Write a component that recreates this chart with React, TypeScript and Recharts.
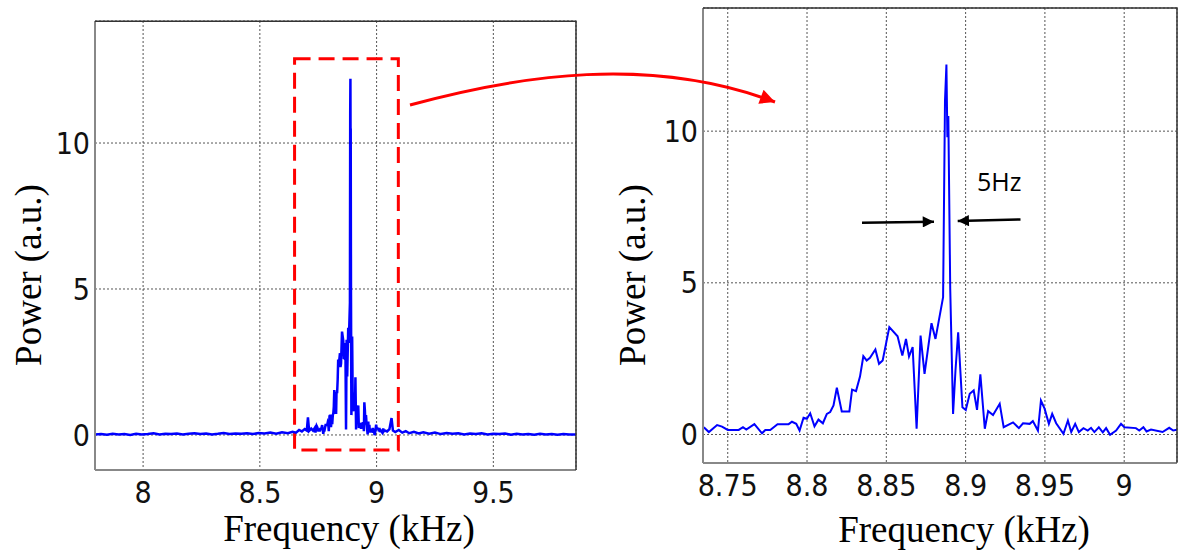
import React from 'react';
import { LineChart, Line, XAxis, YAxis, CartesianGrid, ReferenceArea } from 'recharts';

// zoomed spectrum (right panel), kHz / a.u.
const zoomFreq = [
  8.7349, 8.7381, 8.7433, 8.7464, 8.75, 8.7569, 8.7596, 8.7617, 8.7668, 8.7716,
  8.7737, 8.7768, 8.7814, 8.7884, 8.7905, 8.7932, 8.7953, 8.7978, 8.7999, 8.802,
  8.8047, 8.8072, 8.81, 8.8125, 8.8146, 8.8167, 8.8188, 8.8219, 8.8267, 8.8284,
  8.8309, 8.8334, 8.8355, 8.8376, 8.8397, 8.8431, 8.8454, 8.8477, 8.8519, 8.8571,
  8.8601, 8.8624, 8.8643, 8.8666, 8.8691, 8.8716, 8.8741, 8.8785, 8.881, 8.8858,
  8.887, 8.8879, 8.8885, 8.8891, 8.8903, 8.8921, 8.8936, 8.8953, 8.898, 8.9001,
  8.9026, 8.9051, 8.9072, 8.9093, 8.9121, 8.9142, 8.9173, 8.9215, 8.924, 8.9299,
  8.9336, 8.9362, 8.9404, 8.9424, 8.9456, 8.9475, 8.9498, 8.9525, 8.9546, 8.9571,
  8.9617, 8.9645, 8.9666, 8.9691, 8.9714, 8.9743, 8.977, 8.9791, 8.9812, 8.984,
  8.9865, 8.9886, 8.9911, 8.9949, 8.998, 9.0001, 9.0074, 9.0095, 9.0121, 9.0141,
  9.0169, 9.0242, 9.0284, 9.0309, 9.0334,
];
const zoomPower = [
  0.24, 0.08, 0.31, 0.26, 0.15, 0.15, 0.24, 0.16, 0.34, 0.04,
  0.15, 0.15, 0.34, 0.34, 0.42, 0.35, 0.13, 0.55, 0.52, 0.7,
  0.27, 0.49, 0.37, 0.68, 0.74, 0.96, 1.54, 0.76, 0.76, 1.48,
  1.43, 1.91, 2.58, 2.44, 2.53, 2.8, 2.33, 2.44, 3.54, 3.24,
  2.6, 3.15, 2.57, 2.88, 0.19, 3.26, 2.0, 3.67, 3.15, 4.53,
  11.0, 12.2, 9.8, 10.5, 4.8, 0.68, 2.1, 3.37, 0.9, 0.81,
  1.34, 1.45, 0.81, 1.98, 0.19, 0.77, 0.64, 1.01, 0.24, 0.4,
  0.21, 0.37, 0.35, 0.44, 0.13, 1.12, 0.85, 0.35, 0.68, 0.37,
  0.02, 0.46, 0.08, 0.35, 0.08, 0.21, 0.13, 0.22, 0.08, 0.24,
  0.07, 0.21, -0.01, 0.13, 0.35, 0.24, 0.21, 0.13, 0.24, 0.1,
  0.16, 0.08, 0.22, 0.13, 0.16,
];

// wide spectrum outside the zoomed window (left panel only)
const lowFreq = [
  7.794, 7.82, 7.845, 7.87, 7.895, 7.92, 7.945, 7.97, 7.995, 8.02,
  8.045, 8.07, 8.095, 8.12, 8.145, 8.17, 8.195, 8.22, 8.245, 8.27,
  8.295, 8.32, 8.345, 8.37, 8.395, 8.42, 8.445, 8.47, 8.495, 8.52,
  8.545, 8.57, 8.595, 8.62, 8.64, 8.655, 8.668, 8.68, 8.692, 8.701,
  8.706, 8.711, 8.72, 8.728,
];
const lowPower = [
  0.02, 0.03, 0.01, 0.04, 0.02, 0.03, 0.0, 0.04, 0.02, 0.03,
  0.06, 0.02, 0.04, 0.03, 0.05, 0.02, 0.04, 0.06, 0.03, 0.05,
  0.02, 0.04, 0.07, 0.03, 0.05, 0.04, 0.06, 0.03, 0.07, 0.05,
  0.08, 0.04, 0.09, 0.06, 0.11, 0.08, 0.17, 0.12, 0.2, 0.15,
  0.6, 0.14, 0.22, 0.15,
];
const highFreq = [
  9.045, 9.055, 9.064, 9.07, 9.08, 9.095, 9.11, 9.125, 9.14, 9.16,
  9.18, 9.2, 9.225, 9.25, 9.275, 9.3, 9.325, 9.35, 9.375, 9.4,
  9.425, 9.45, 9.475, 9.5, 9.525, 9.55, 9.575, 9.6, 9.625, 9.65,
  9.675, 9.7, 9.725, 9.75, 9.775, 9.8, 9.825, 9.854,
];
const highPower = [
  0.12, 0.2, 0.58, 0.15, 0.1, 0.17, 0.08, 0.13, 0.06, 0.11,
  0.05, 0.09, 0.04, 0.08, 0.03, 0.07, 0.04, 0.06, 0.02, 0.05,
  0.03, 0.06, 0.02, 0.04, 0.03, 0.05, 0.01, 0.04, 0.02, 0.03,
  0.01, 0.04, 0.02, 0.03, 0.01, 0.03, 0.02, 0.02,
];

const wideTicks = [8, 8.5, 9, 9.5];
const zoomTicks = [8.75, 8.8, 8.85, 8.9, 8.95, 9];
const powerTicks = [0, 5, 10];

const toRows = (f: number[], p: number[]) => f.map((x, i) => ({ f: x, p: p[i] }));
const zoomData = toRows(zoomFreq, zoomPower);
const wideData = [...toRows(lowFreq, lowPower), ...zoomData, ...toRows(highFreq, highPower)];

const tickStyle = {
  fontFamily: 'Liberation Sans Narrow, DejaVu Sans Condensed, Arial, sans-serif',
  fontSize: 30,
  fill: '#111',
};
const SERIF = 'Liberation Serif, Times New Roman, DejaVu Serif, serif';

export default function App() {
  return (
    <div style={{ position: 'absolute', left: 0, top: 0, width: 1178, height: 550, background: '#fff' }}>
      <div style={{ position: 'absolute', left: 0, top: 0 }}>
        <LineChart width={600} height={550} data={wideData} margin={{ top: 21, right: 24, bottom: 50, left: 0 }}>
          <CartesianGrid stroke="#555" strokeDasharray="2 2" />
          <XAxis
            dataKey="f"
            type="number"
            domain={[7.794, 9.854]}
            ticks={wideTicks}
            allowDataOverflow
            height={30}
            tick={tickStyle}
            tickLine={false}
            tickSize={6}
            tickMargin={6}
            axisLine={{ stroke: '#888', strokeWidth: 2 }}
          />
          <YAxis
            type="number"
            domain={[-1.2, 14.18]}
            ticks={powerTicks}
            allowDataOverflow
            width={95}
            tick={tickStyle}
            tickLine={false}
            tickSize={3}
            tickMargin={2}
            axisLine={{ stroke: '#888', strokeWidth: 2 }}
          />
          <ReferenceArea
            x1={8.6487}
            x2={9.0931}
            y1={-0.514}
            y2={12.89}
            fill="none"
            stroke="#ff0000"
            strokeWidth={3}
            strokeDasharray="16 8"
            ifOverflow="visible"
          />
          <Line type="linear" dataKey="p" stroke="#0000ff" strokeWidth={2.5} dot={false} isAnimationActive={false} />
        </LineChart>
      </div>

      <div style={{ position: 'absolute', left: 600, top: 0 }}>
        <LineChart width={578} height={550} data={zoomData} margin={{ top: 8, right: 1, bottom: 57, left: 0 }}>
          <CartesianGrid stroke="#555" strokeDasharray="2 2" />
          <XAxis
            dataKey="f"
            type="number"
            domain={[8.7344, 9.0333]}
            ticks={zoomTicks}
            allowDataOverflow
            height={30}
            tick={tickStyle}
            tickLine={false}
            tickSize={6}
            tickMargin={6}
            axisLine={{ stroke: '#888', strokeWidth: 2 }}
          />
          <YAxis
            type="number"
            domain={[-0.94, 14.06]}
            ticks={powerTicks}
            allowDataOverflow
            width={103}
            tick={tickStyle}
            tickLine={false}
            tickSize={3}
            tickMargin={2}
            axisLine={{ stroke: '#888', strokeWidth: 2 }}
          />
          <Line type="linear" dataKey="p" stroke="#0000ff" strokeWidth={2} dot={false} isAnimationActive={false} />
        </LineChart>
      </div>

      <svg width={1178} height={550} style={{ position: 'absolute', left: 0, top: 0, pointerEvents: 'none' }}>
        <defs>
          <marker id="redHead" viewBox="0 0 10 10" refX="10" refY="5" markerWidth="6" markerHeight="5" markerUnits="strokeWidth" orient="auto">
            <path d="M0,0 L10,5 L0,10 z" fill="#ff0000" />
          </marker>
          <marker id="blackHead" viewBox="0 0 10 10" refX="10" refY="5" markerWidth="5" markerHeight="4.5" markerUnits="strokeWidth" orient="auto">
            <path d="M0,0 L10,5 L0,10 z" fill="#000" />
          </marker>
        </defs>
        {/* box frames */}
        <path d="M95,21.3 H576 V470" fill="none" stroke="#333" strokeWidth={1.5} />
        <path d="M703,8 H1177 V462.7" fill="none" stroke="#333" strokeWidth={1.5} />

        <g fontFamily={SERIF} fontSize={37} fill="#000">
          <text x={349} y={541} textAnchor="middle">Frequency (kHz)</text>
          <text x={964} y={542} textAnchor="middle">Frequency (kHz)</text>
          <text transform="translate(41,275) rotate(-90)" textAnchor="middle">Power (a.u.)</text>
          <text transform="translate(645,275) rotate(-90)" textAnchor="middle">Power (a.u.)</text>
        </g>

        <path d="M410,105 C520,75 650,55 775,102" fill="none" stroke="#ff0000" strokeWidth={3} markerEnd="url(#redHead)" />

        <line x1={862} y1={222.7} x2={934} y2={221.7} stroke="#000" strokeWidth={2.5} markerEnd="url(#blackHead)" />
        <line x1={1020.5} y1={219.4} x2={957.7} y2={221} stroke="#000" strokeWidth={2.5} markerEnd="url(#blackHead)" />
        <text x={977} y={191} fontFamily="Open Sans, sans-serif" fontSize={25} fill="#000">5Hz</text>
      </svg>
    </div>
  );
}
